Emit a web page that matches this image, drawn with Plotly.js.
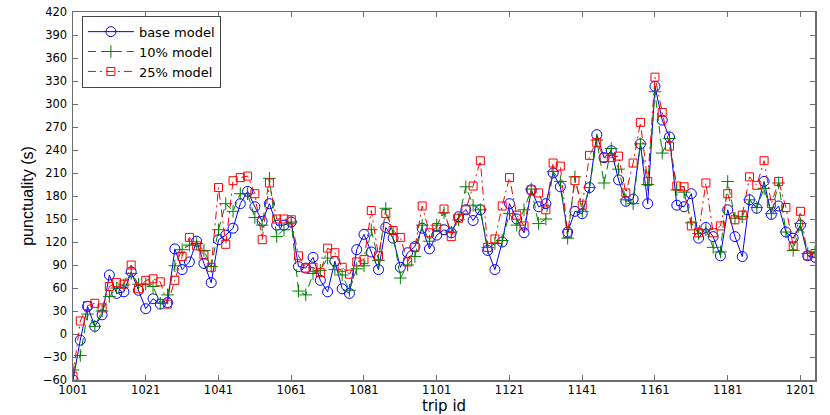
<!DOCTYPE html>
<html>
<head>
<meta charset="utf-8">
<script src="https://cdn.plot.ly/plotly-3.0.1.min.js"></script>
<style>html,body{margin:0;padding:0;background:#fff}#chart{width:830px;height:415px}</style>
</head>
<body>
<div id="chart"></div>
<script>
const tripIds = [1001,1003,1005,1007,1009,1011,1013,1015,1017,1019,
1021,1023,1025,1027,1029,1031,1033,1035,1037,1039,
1041,1043,1045,1047,1049,1051,1053,1055,1057,1059,
1061,1063,1065,1067,1069,1071,1073,1075,1077,1079,
1081,1083,1085,1087,1089,1091,1093,1095,1097,1099,
1101,1103,1105,1107,1109,1111,1113,1115,1117,1119,
1121,1123,1125,1127,1129,1131,1133,1135,1137,1139,
1141,1143,1145,1147,1149,1151,1153,1155,1157,1159,
1161,1163,1165,1167,1169,1171,1173,1175,1177,1179,
1181,1183,1185,1187,1189,1191,1193,1195,1197,1199,
1201,1203,1205];

const baseModel = [-60,-8,36,10,25,77,53,55,81,57,
33,46,39,41,111,84,94,121,92,67,
123,129,138,170,186,166,147,170,142,142,
146,88,86,100,70,55,95,59,53,110,
130,107,84,139,125,87,106,114,138,111,
129,136,132,153,162,148,162,109,84,120,
170,150,132,188,166,170,210,192,133,160,
157,191,260,230,239,201,173,176,248,170,
323,279,257,168,166,183,125,139,127,102,
162,127,101,175,164,199,156,167,133,125,
142,102,100];

const model10 = [-47,-28,26,10,30,49,60,64,79,65,
65,62,40,51,89,110,116,118,109,88,
136,170,160,183,183,152,142,203,127,136,
146,56,51,79,83,99,84,77,57,85,
89,136,96,164,131,73,90,101,142,121,
142,158,133,149,192,168,162,113,118,122,
157,142,162,189,144,150,212,199,125,205,
160,191,253,197,242,215,175,170,248,195,
316,236,255,188,185,145,131,136,113,107,
199,151,153,175,165,190,157,197,133,109,
144,105,107];

const model25 = [-55,17,37,40,34,62,67,65,90,59,
70,72,68,39,70,101,126,115,103,87,
191,117,200,204,206,183,123,197,150,150,
149,102,86,87,80,112,106,87,78,94,
97,161,102,157,135,126,94,113,167,132,
139,163,127,151,162,193,226,113,124,167,
204,155,141,188,184,162,223,219,131,200,
168,233,250,230,230,232,184,223,276,199,
335,289,245,193,192,141,132,197,132,141,
183,149,155,205,194,226,170,199,165,115,
160,102,105];

const seriesNames = ['base model','10% model','25% model'];
const xTicks = [1001,1021,1041,1061,1081,1101,1121,1141,1161,1181,1201];
const yTicks = [-60,-30,0,30,60,90,120,150,180,210,240,270,300,330,360,390,420];

const traces = [
  {x: tripIds, y: baseModel, name: seriesNames[0], type: 'scatter', mode: 'lines+markers',
   line: {color: '#0000ff', width: 1},
   marker: {symbol: 'circle-open', size: 10, color: '#0000ff', line: {width: 1, color: '#0000ff'}}},
  {x: tripIds, y: model10, name: seriesNames[1], type: 'scatter', mode: 'lines+markers',
   line: {color: '#008000', width: 1, dash: '8px,5px'},
   marker: {symbol: 'cross-thin-open', size: 9, color: '#008000', line: {width: 1, color: '#008000'}}},
  {x: tripIds, y: model25, name: seriesNames[2], type: 'scatter', mode: 'lines+markers',
   line: {color: '#ff0000', width: 1, dash: '8px,4px,2px,4px'},
   marker: {symbol: 'square-open', size: 8, color: '#ff0000', line: {width: 1, color: '#ff0000'}}}
];

const axisCommon = {
  showgrid: false, zeroline: false, showline: true, mirror: 'ticks',
  linecolor: '#6e6e6e', linewidth: 1.5, ticks: 'inside', ticklen: 5,
  tickcolor: '#6e6e6e', tickwidth: 1,
  tickfont: {family: 'DejaVu Sans', size: 11.5, color: '#000'}
};

const layout = {
  width: 830, height: 415,
  margin: {l: 73, r: 15, t: 12, b: 35},
  paper_bgcolor: '#fff', plot_bgcolor: '#fff',
  showlegend: true,
  legend: {x: 0.012, y: 0.99, xanchor: 'left', yanchor: 'top',
           bgcolor: '#fff', bordercolor: '#444', borderwidth: 1,
           font: {family: 'DejaVu Sans', size: 13, color: '#000'},
           tracegroupgap: 0, itemwidth: 46},
  xaxis: Object.assign({}, axisCommon, {
    range: [1001, 1205], tickvals: xTicks, ticktext: xTicks.map(String),
    automargin: false, ticklabelstandoff: -1,
    title: {text: 'trip id', font: {family: 'DejaVu Sans', size: 15, color: '#000'}, standoff: 0}
  }),
  yaxis: Object.assign({}, axisCommon, {
    range: [-60, 420], tickvals: yTicks, ticktext: yTicks.map(v => v < 0 ? '\u2212' + Math.abs(v) : String(v)),
    automargin: false, ticklabelstandoff: 2,
    title: {text: 'punctuality (s)', font: {family: 'Liberation Sans Narrow, Liberation Sans', size: 16, color: '#000'}, standoff: 5}
  })
};

Plotly.newPlot('chart', traces, layout, {displayModeBar: false, staticPlot: true});
</script>
</body>
</html>
